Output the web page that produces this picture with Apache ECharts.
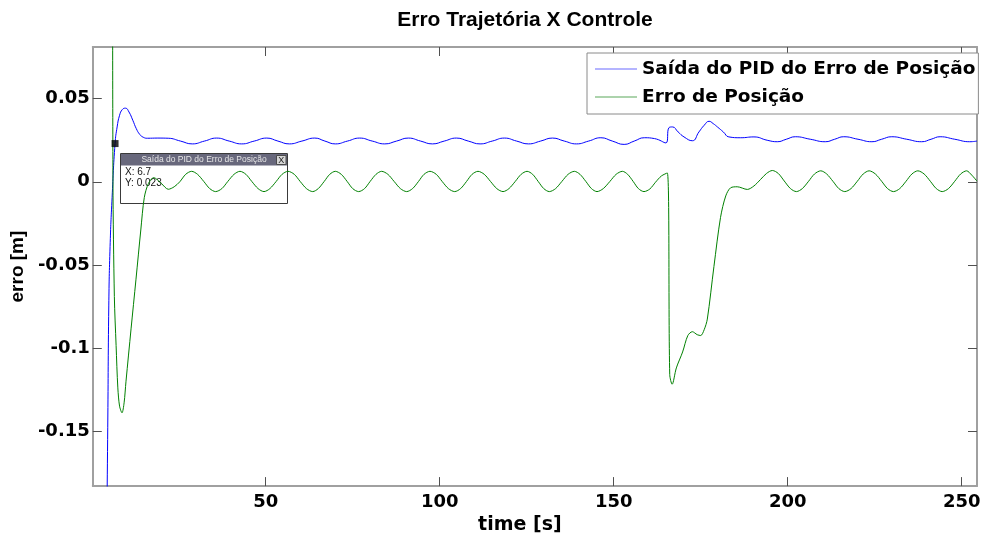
<!DOCTYPE html>
<html><head><meta charset="utf-8">
<script src="https://cdn.jsdelivr.net/npm/echarts@6/dist/echarts.min.js"></script>
<style>html,body{margin:0;padding:0;background:#fff}#c{width:985px;height:540px}</style>
</head><body><div id="c"></div>
<script>
// ---- data ----
const titleText = 'Erro Trajetória X Controle';
const xName = 'time [s]';
const yName = 'erro [m]';
const blueName = 'Saída do PID do Erro de Posição';
const greenName = 'Erro de Posição';

const xTicks = [50, 100, 150, 200, 250];
const yTicks = [-0.15, -0.1, -0.05, 0, 0.05];
const yTickLabels = ['-0.15', '-0.1', '-0.05', '0', '0.05'];
const xRange = [0.3, 254.4];
const yRange = [-0.1831, 0.0811];

const tipPoint = [6.7, 0.023];

const blueT = [3.9,4.6,4.9,5.27,5.85,6.7,7.3,8.0,8.8,9.7,10.7,11.8,12.8,13.8,14.8,16.0,19.0,22.0,
  25.5,28.9,32.4,35.9,39.5,43.1,46.7,50.3,53.5,56.8,60.4,64.1,67.0,70.0,73.5,77.0,80.6,84.2,87.6,91.0,
  94.5,97.9,101.3,104.8,108.2,111.6,115.1,118.6,122.1,125.5,129.0,132.4,135.8,139.3,142.8,146.3,149.6,
  153.0,155.9,158.8,161.7,165.0,165.9,166.9,168.5,170.2,172.6,174.5,176.0,177.4,178.6,179.8,181.5,183.1,
  186.5,190.3,194.1,197.0,199.6,202.2,206.5,210.8,213.5,216.1,220.2,224.2,227.0,229.9,234.2,238.5,241.2,
  243.8,248.0,252.3,254.4];
const blueY = [-0.30,-0.148,-0.0747,-0.039,-0.0095,0.023,0.033,0.040,0.0435,0.0443,0.042,0.037,0.032,0.0285,0.0268,0.0262,0.0263,0.0262,
  0.0245,0.0228,0.0245,0.0263,0.0245,0.0228,0.0245,0.0263,0.0245,0.0228,0.0245,0.0263,0.0245,0.0228,0.0245,0.0263,0.0245,0.0228,0.0245,0.0263,
  0.0245,0.0228,0.0245,0.0263,0.0245,0.0228,0.0245,0.0263,0.0245,0.0228,0.0245,0.0263,0.0245,0.0228,0.0245,0.0265,0.0245,
  0.0225,0.0245,0.0265,0.026,0.0234,0.0326,0.033,0.030,0.027,0.0247,0.030,0.034,0.0364,0.035,0.033,0.030,0.027,
  0.0265,0.027,0.025,0.0241,0.0256,0.0271,0.0256,0.0241,0.0256,0.0271,0.0256,0.0241,0.0256,0.0271,0.0256,0.0241,0.0256,
  0.0271,0.0256,0.0241,0.0245];

const greenT = [5.9,6.1,6.5,7.0,7.5,8.0,8.7,9.3,9.85,11.3,12.7,14.1,15.1,16.3,17.8,20.0,22.0,23.7,25.3,27.0,
  28.7,30.4,32.2,33.9,35.6,37.4,39.1,40.9,42.6,44.3,46.0,47.8,49.5,51.2,53.0,54.7,
  56.4,58.2,59.9,61.7,63.5,65.1,66.8,68.4,70.0,71.7,73.4,75.0,76.7,78.4,80.0,81.7,
  83.3,85.1,86.9,88.7,90.5,92.2,93.9,95.5,97.2,99.0,100.7,102.5,104.3,106.0,107.7,109.3,
  111.0,112.8,114.6,116.4,118.2,119.9,121.7,123.4,125.1,126.7,128.3,129.9,131.5,133.3,135.1,136.9,
  138.7,140.3,142.0,143.6,145.2,147.0,148.9,150.7,152.5,154.0,155.6,157.1,158.7,160.4,162.0,163.7,
  165.4,166.1,166.8,168.0,169.8,171.3,172.6,174.0,175.0,176.0,176.9,178.8,180.7,182.2,183.6,185.5,
  188.4,190.3,192.2,193.9,195.6,197.3,199.0,200.8,202.5,204.2,206.0,207.7,209.5,211.2,213.0,214.7,
  216.4,218.2,220.0,221.7,223.4,225.2,227.0,228.7,230.4,232.2,234.0,235.7,237.4,239.2,241.0,242.7,
  244.4,246.2,248.0,249.7,251.4,252.9,254.4];
const greenY = [0.30,0.0,-0.069,-0.0985,-0.124,-0.135,-0.139,-0.133,-0.120,-0.0885,-0.059,-0.029,-0.0095,-0.001,0.0025,-0.001,-0.0045,-0.003,0.0,0.0045,
  0.0063,0.0045,0.0002,-0.0041,-0.0059,-0.0041,0.0002,0.0045,0.0063,0.0045,0.0002,-0.0041,-0.0059,-0.0041,0.0002,0.0045,
  0.0063,0.0045,0.0002,-0.0041,-0.0059,-0.0041,0.0002,0.0045,0.0063,0.0045,0.0002,-0.0041,-0.0059,-0.0041,0.0002,0.0045,
  0.0063,0.0045,0.0002,-0.0041,-0.0059,-0.0041,0.0002,0.0045,0.0063,0.0045,0.0002,-0.0041,-0.0059,-0.0041,0.0002,0.0045,
  0.0063,0.0045,0.0002,-0.0041,-0.0059,-0.0041,0.0002,0.0045,0.0063,0.0045,0.0002,-0.0041,-0.0059,-0.0041,0.0002,0.0045,
  0.0063,0.0045,0.0002,-0.0041,-0.0059,-0.0041,0.0002,0.0045,0.0063,0.0045,0.0002,-0.0041,-0.0059,-0.0043,-0.0003,0.0035,
  0.0053,-0.116,-0.1218,-0.112,-0.1024,-0.0925,-0.0902,-0.092,-0.0925,-0.089,-0.0826,-0.051,-0.0214,-0.0085,-0.0036,-0.003,
  -0.0046,-0.0025,0.0014,0.0050,0.0068,0.0050,0.0005,-0.0041,-0.0059,-0.0041,0.0003,0.0047,0.0066,0.0047,0.0003,-0.0041,
  -0.0059,-0.0041,0.0003,0.0047,0.0066,0.0047,0.0003,-0.0041,-0.0059,-0.0041,0.0003,0.0047,0.0066,0.0047,0.0003,-0.0041,
  -0.0059,-0.0041,0.0003,0.0047,0.0066,0.0040,0.0004];

// ---- chart ----
const zip = (a, b) => a.map((v, i) => [v, b[i]]);
const chart = echarts.init(document.getElementById('c'), null, {renderer: 'canvas'});
const axisGray = '#a0a0a0', tickCol = '#505050';
const tickFont = {fontFamily: 'DejaVu Sans', fontWeight: 'bold', fontSize: 18, color: '#000'};

function xAx(pos, main) {
  return {
    type: 'value', position: pos, min: xRange[0], max: xRange[1],
    axisLine: {show: true, onZero: false, lineStyle: {color: axisGray, width: 2}},
    axisTick: {show: true, inside: true, length: 9, customValues: xTicks, lineStyle: {color: tickCol, width: 1}},
    axisLabel: main ? Object.assign({show: true, customValues: xTicks, margin: 7}, tickFont) : {show: false},
    splitLine: {show: false},
    name: main ? xName : '', nameLocation: 'middle', nameGap: 24,
    nameTextStyle: {fontFamily: 'DejaVu Sans', fontWeight: 'bold', fontSize: 19, color: '#000', padding: [0, 30, 0, 0]}
  };
}
function yAx(pos, main) {
  return {
    type: 'value', position: pos, min: yRange[0], max: yRange[1],
    axisLine: {show: true, onZero: false, lineStyle: {color: axisGray, width: 2}},
    axisTick: {show: true, inside: true, length: 9, customValues: yTicks, lineStyle: {color: tickCol, width: 1}},
    axisLabel: main ? Object.assign({show: true, customValues: yTicks, margin: 3,
      formatter: v => { const i = yTicks.findIndex(t => Math.abs(t - v) < 1e-9); return i >= 0 ? yTickLabels[i] : String(v); }}, tickFont) : {show: false},
    splitLine: {show: false},
    name: main ? yName : '', nameLocation: 'middle', nameGap: 62, nameRotate: 90,
    nameTextStyle: {fontFamily: 'Liberation Sans', fontWeight: 'bold', fontSize: 19, color: '#000'}
  };
}

const option = {
  animation: false,
  backgroundColor: '#fff',
  title: {text: titleText, left: 520, top: 5, textAlign: 'center',
    textStyle: {fontFamily: 'Liberation Sans', fontWeight: 'bold', fontSize: 21, color: '#000'}},
  grid: {left: 90, right: 8, top: 47, bottom: 47},
  legend: {
    data: [blueName, greenName], orient: 'vertical', left: 587, top: 53,
    padding: [6, 3, 7, 8], itemGap: 8, itemWidth: 42, itemHeight: 1, icon: 'rect',
    backgroundColor: '#fff', borderColor: '#8a8a8a', borderWidth: 1,
    textStyle: {fontFamily: 'DejaVu Sans', fontWeight: 'bold', fontSize: 18.5, color: '#000', lineHeight: 20},
    z: 20
  },
  xAxis: [xAx('bottom', true), xAx('top', false)],
  yAxis: [yAx('left', true), yAx('right', false)],
  series: [
    {name: blueName, type: 'line', data: zip(blueT, blueY), symbol: 'none', showSymbol: false,
      smooth: 0.5, clip: true,
      lineStyle: {color: '#0000ff', width: 1}, itemStyle: {color: '#6a6aff'}},
    {name: greenName, type: 'line', data: zip(greenT, greenY), symbol: 'none', showSymbol: false,
      smooth: 0.3, clip: true,
      lineStyle: {color: '#008000', width: 1}, itemStyle: {color: '#5aa85a'}},
    {name: 'datatip', type: 'scatter', data: [tipPoint], symbol: 'rect', symbolSize: 7,
      itemStyle: {color: '#000'}, z: 10}
  ]
};
chart.setOption(option);

// datatip box anchored to the marked point
const p = chart.convertToPixel({xAxisIndex: 0, yAxisIndex: 0}, tipPoint);
const bx = Math.round(p[0] + 5), by = Math.round(p[1] + 9);
chart.setOption({
  graphic: [{
    type: 'group', x: bx, y: by, z: 100,
    children: [
      {type: 'rect', shape: {x: 0.5, y: 0.5, width: 167, height: 50}, style: {fill: '#fff', stroke: '#3a3a3a', lineWidth: 1}},
      {type: 'rect', shape: {x: 1, y: 1, width: 166, height: 11.5}, style: {fill: '#68687c'}},
      {type: 'text', x: 84, y: 7, style: {text: blueName, fill: '#e6e6e6', fontFamily: 'Liberation Sans', fontSize: 8.5, align: 'center', verticalAlign: 'middle'}},
      {type: 'rect', shape: {x: 156.5, y: 2.5, width: 9.5, height: 9}, style: {fill: '#d6d6d6', stroke: '#4a4a4a', lineWidth: 1}},
      {type: 'text', x: 161.3, y: 7.3, style: {text: 'X', fill: '#222', fontFamily: 'Liberation Sans', fontSize: 9, align: 'center', verticalAlign: 'middle'}},
      {type: 'text', x: 5, y: 19, style: {text: 'X: ' + tipPoint[0], fill: '#111', fontFamily: 'Liberation Sans', fontSize: 10, verticalAlign: 'middle'}},
      {type: 'text', x: 5, y: 30, style: {text: 'Y: ' + tipPoint[1], fill: '#111', fontFamily: 'Liberation Sans', fontSize: 10, verticalAlign: 'middle'}}
    ]
  }]
});
</script>
</body></html>
